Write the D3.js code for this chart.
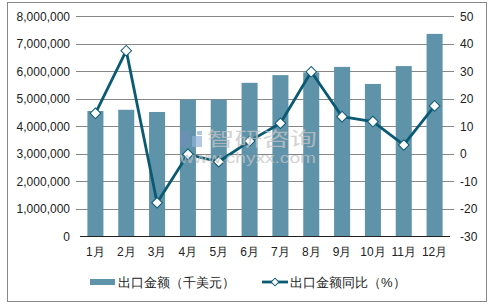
<!DOCTYPE html>
<html><head><meta charset="utf-8">
<script src="https://cdn.jsdelivr.net/npm/d3@7/dist/d3.min.js"></script>
<style>body{margin:0;background:#fff;}svg{display:block;font-family:"Liberation Sans",Arial,sans-serif;}</style>
</head><body>
<svg id="c" width="493" height="306"></svg>
<script>
const categories = ["1月","2月","3月","4月","5月","6月","7月","8月","9月","10月","11月","12月"];
const exportValues = [4545000,4590000,4510000,4960000,4960000,5570000,5850000,5950000,6150000,5530000,6180000,7350000];
const yoyValues = [14.6,37.4,-17.9,-0.3,-3.0,4.5,11.0,29.7,13.4,11.6,3.1,17.3];
const leftTicks = [0,1000000,2000000,3000000,4000000,5000000,6000000,7000000,8000000];
const rightTicks = [-30,-20,-10,0,10,20,30,40,50];
const seriesNames = ["出口金额（千美元）","出口金额同比（%）"];

const barColor = "#5e93aa", lineColor = "#0b5a73", gridColor = "#878787";
const svg = d3.select("#c");
const m = {l:80, r:450, t:16, b:236};

svg.append("rect").attr("x",7.5).attr("y",2.5).attr("width",479).attr("height",299)
  .attr("fill","#fff").attr("stroke","#888").attr("stroke-width",1);

const x = d3.scaleBand().domain(categories).range([m.l,m.r]).paddingInner(0.48).paddingOuter(0.24);
const yL = d3.scaleLinear().domain([0,8000000]).range([m.b,m.t]);
const yR = d3.scaleLinear().domain([-30,50]).range([m.b,m.t]);
const xc = d => x(d) + x.bandwidth()/2;

// grid
svg.append("g").selectAll("line").data(leftTicks.slice(1)).join("line")
  .attr("x1",m.l-4).attr("x2",m.r+4).attr("y1",d=>Math.round(yL(d))+0.5).attr("y2",d=>Math.round(yL(d))+0.5)
  .attr("stroke",gridColor).attr("stroke-width",1);

// left axis labels
const fmt = d3.format(",");
svg.append("g").selectAll("text").data(leftTicks).join("text")
  .attr("x",70).attr("y",d=>yL(d)+4.5).attr("text-anchor","end")
  .attr("font-size",12).attr("fill","#222").text(d=>fmt(d));
// right axis labels
svg.append("g").selectAll("text").data(rightTicks).join("text")
  .attr("x",460).attr("y",d=>yR(d)+4.5).attr("text-anchor","start")
  .attr("font-size",12).attr("fill","#222").text(d=>d);

// bars
svg.append("g").selectAll("rect").data(exportValues).join("rect")
  .attr("x",(d,i)=>x(categories[i])).attr("width",x.bandwidth())
  .attr("y",d=>yL(d)).attr("height",d=>m.b-yL(d)).attr("fill",barColor);

// bottom axis
svg.append("line").attr("x1",m.l).attr("x2",m.r).attr("y1",m.b+0.5).attr("y2",m.b+0.5).attr("stroke","#222");
svg.append("g").selectAll("text").data(categories).join("text")
  .attr("x",d=>xc(d)).attr("y",256).attr("text-anchor","middle")
  .attr("font-size",12).attr("fill","#222").text(d=>d);

// line
const line = d3.line().x((d,i)=>xc(categories[i])).y(d=>yR(d));
svg.append("path").datum(yoyValues).attr("d",line).attr("fill","none")
  .attr("stroke",lineColor).attr("stroke-width",2.8).attr("stroke-linejoin","round");
svg.append("g").selectAll("path").data(yoyValues).join("path")
  .attr("d",d3.symbol().type(d3.symbolSquare).size(56)())
  .attr("transform",(d,i)=>`translate(${xc(categories[i])},${yR(d)}) rotate(45)`)
  .attr("fill","#fff").attr("stroke",lineColor).attr("stroke-width",1);

// watermark (on top, semi-transparent)
const wm = svg.append("g");
wm.append("rect").attr("x",180).attr("y",131).attr("width",10).attr("height",16).attr("fill","#6f8fb8").attr("opacity",0.7);
wm.append("rect").attr("x",192).attr("y",136).attr("width",10).attr("height",11).attr("fill","#8fb0d4").attr("opacity",0.7);
wm.append("rect").attr("x",197).attr("y",131).attr("width",5).attr("height",4).attr("fill","#8fb0d4").attr("opacity",0.7);
wm.append("text").attr("x",207).attr("y",146).attr("font-size",19).attr("textLength",110)
  .attr("lengthAdjust","spacingAndGlyphs").attr("fill","#c4c4c4").attr("opacity",0.75).attr("font-family","Noto Sans CJK SC").text("智研咨询");
wm.append("text").attr("x",180).attr("y",163).attr("font-size",14).attr("textLength",136)
  .attr("lengthAdjust","spacingAndGlyphs").attr("fill","#c4c4c4").attr("opacity",0.75).text("www.chyxx.com");

// legend
const lg = svg.append("g");
lg.append("rect").attr("x",90).attr("y",279).attr("width",25).attr("height",6).attr("fill",barColor);
lg.append("text").attr("x",118).attr("y",287).attr("font-size",13).attr("fill","#222").text(seriesNames[0]);
lg.append("line").attr("x1",262).attr("x2",288).attr("y1",282).attr("y2",282).attr("stroke",lineColor).attr("stroke-width",2.8);
lg.append("path").attr("d",d3.symbol().type(d3.symbolSquare).size(30)())
  .attr("transform","translate(275,282) rotate(45)").attr("fill","#fff").attr("stroke",lineColor).attr("stroke-width",1);
lg.append("text").attr("x",290).attr("y",287).attr("font-size",13).attr("fill","#222").text(seriesNames[1]);
</script>
</body></html>
